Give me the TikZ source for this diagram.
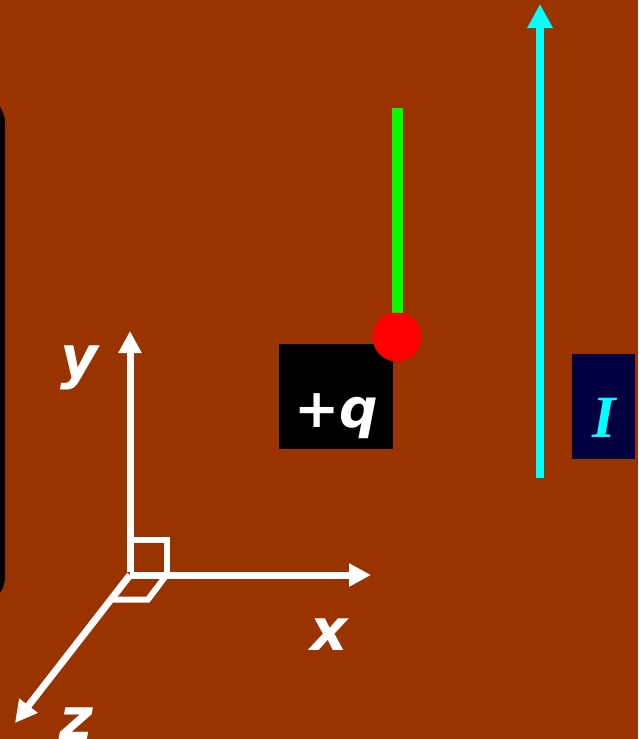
\documentclass[tikz,border=0pt]{standalone}
\usepackage{fontspec}
\setmainfont{DejaVu Sans}
\newfontfamily\timesfont{Liberation Serif}
\usetikzlibrary{arrows.meta,positioning}

\definecolor{rust}{HTML}{993300}
\definecolor{navybox}{HTML}{000040}
\definecolor{aqua}{HTML}{00FFFF}
\definecolor{lime}{HTML}{00FF00}
\definecolor{pure red}{HTML}{FF0000}

\tikzset{
  axis/.style={white, line width=7pt, -{Triangle[length=22pt,width=22pt]}},
  lbl/.style={text=white, font=\fontsize{58}{60}\selectfont\bfseries\itshape, inner sep=0pt, anchor=base},
}

\begin{document}
\begin{tikzpicture}[x=1pt,y=-1pt]
  \useasboundingbox (0,0) rectangle (638,739);
  \fill[rust] (0,0) rectangle (638,739);
  % panel edge on the left
  \begin{scope}
    \clip (0,0) rectangle (638,739);
    \fill[black, rounded corners=28pt] (-80,95) rectangle (5,605);
  \end{scope}

  % charge and its field line
  \node (qbox) [fill=black, minimum width=114pt, minimum height=105pt, inner sep=0pt] at (336,396.5) {};
  \node (qlbl) [lbl, font=\fontsize{54}{56}\selectfont\bfseries] at (336,427) {+\textit{q}};
  \coordinate (etop) at (397,108);
  \draw[lime, line width=11pt] (397,337) -- (etop);
  \node (charge) [circle, fill=pure red, minimum size=49pt, inner sep=0pt] at (397,337) {};

  % current
  \coordinate (ibot) at (540,478);
  \coordinate (itop) at (540,4);
  \draw[aqua, line width=8pt, -{Triangle[length=24pt,width=24pt]}] (ibot) -- (itop);
  \node (ibox) [fill=navybox, minimum width=63pt, minimum height=105pt, inner sep=0pt] at (603.5,406.5) {};
  \node (ilbl) [text=aqua, font=\fontsize{60}{62}\selectfont\timesfont\bfseries\itshape, inner sep=0pt, anchor=base] at (604,437) {I};

  % axes
  \coordinate (o) at (130,575);
  \coordinate (xend) at (371,575);
  \coordinate (yend) at (130,331);
  \coordinate (zend) at (15,723);
  \draw[axis] (o) -- (xend);
  \draw[axis] ([yshift=3.5pt]o) -- (yend);
  \draw[axis] (o) -- (zend);
  \draw[white, line width=6pt] (130,540) -- (166.5,540) -- (166.5,575);
  \draw[white, line width=6pt] (166.5,575) -- (148,599.5) -- (112,599.5);
  \node (xlbl) [lbl] at (329,650) {x};
  \node (ylbl) [lbl] at (79,377) {y};
  \node (zlbl) [lbl] at (76,739) {z};
\end{tikzpicture}
\end{document}
